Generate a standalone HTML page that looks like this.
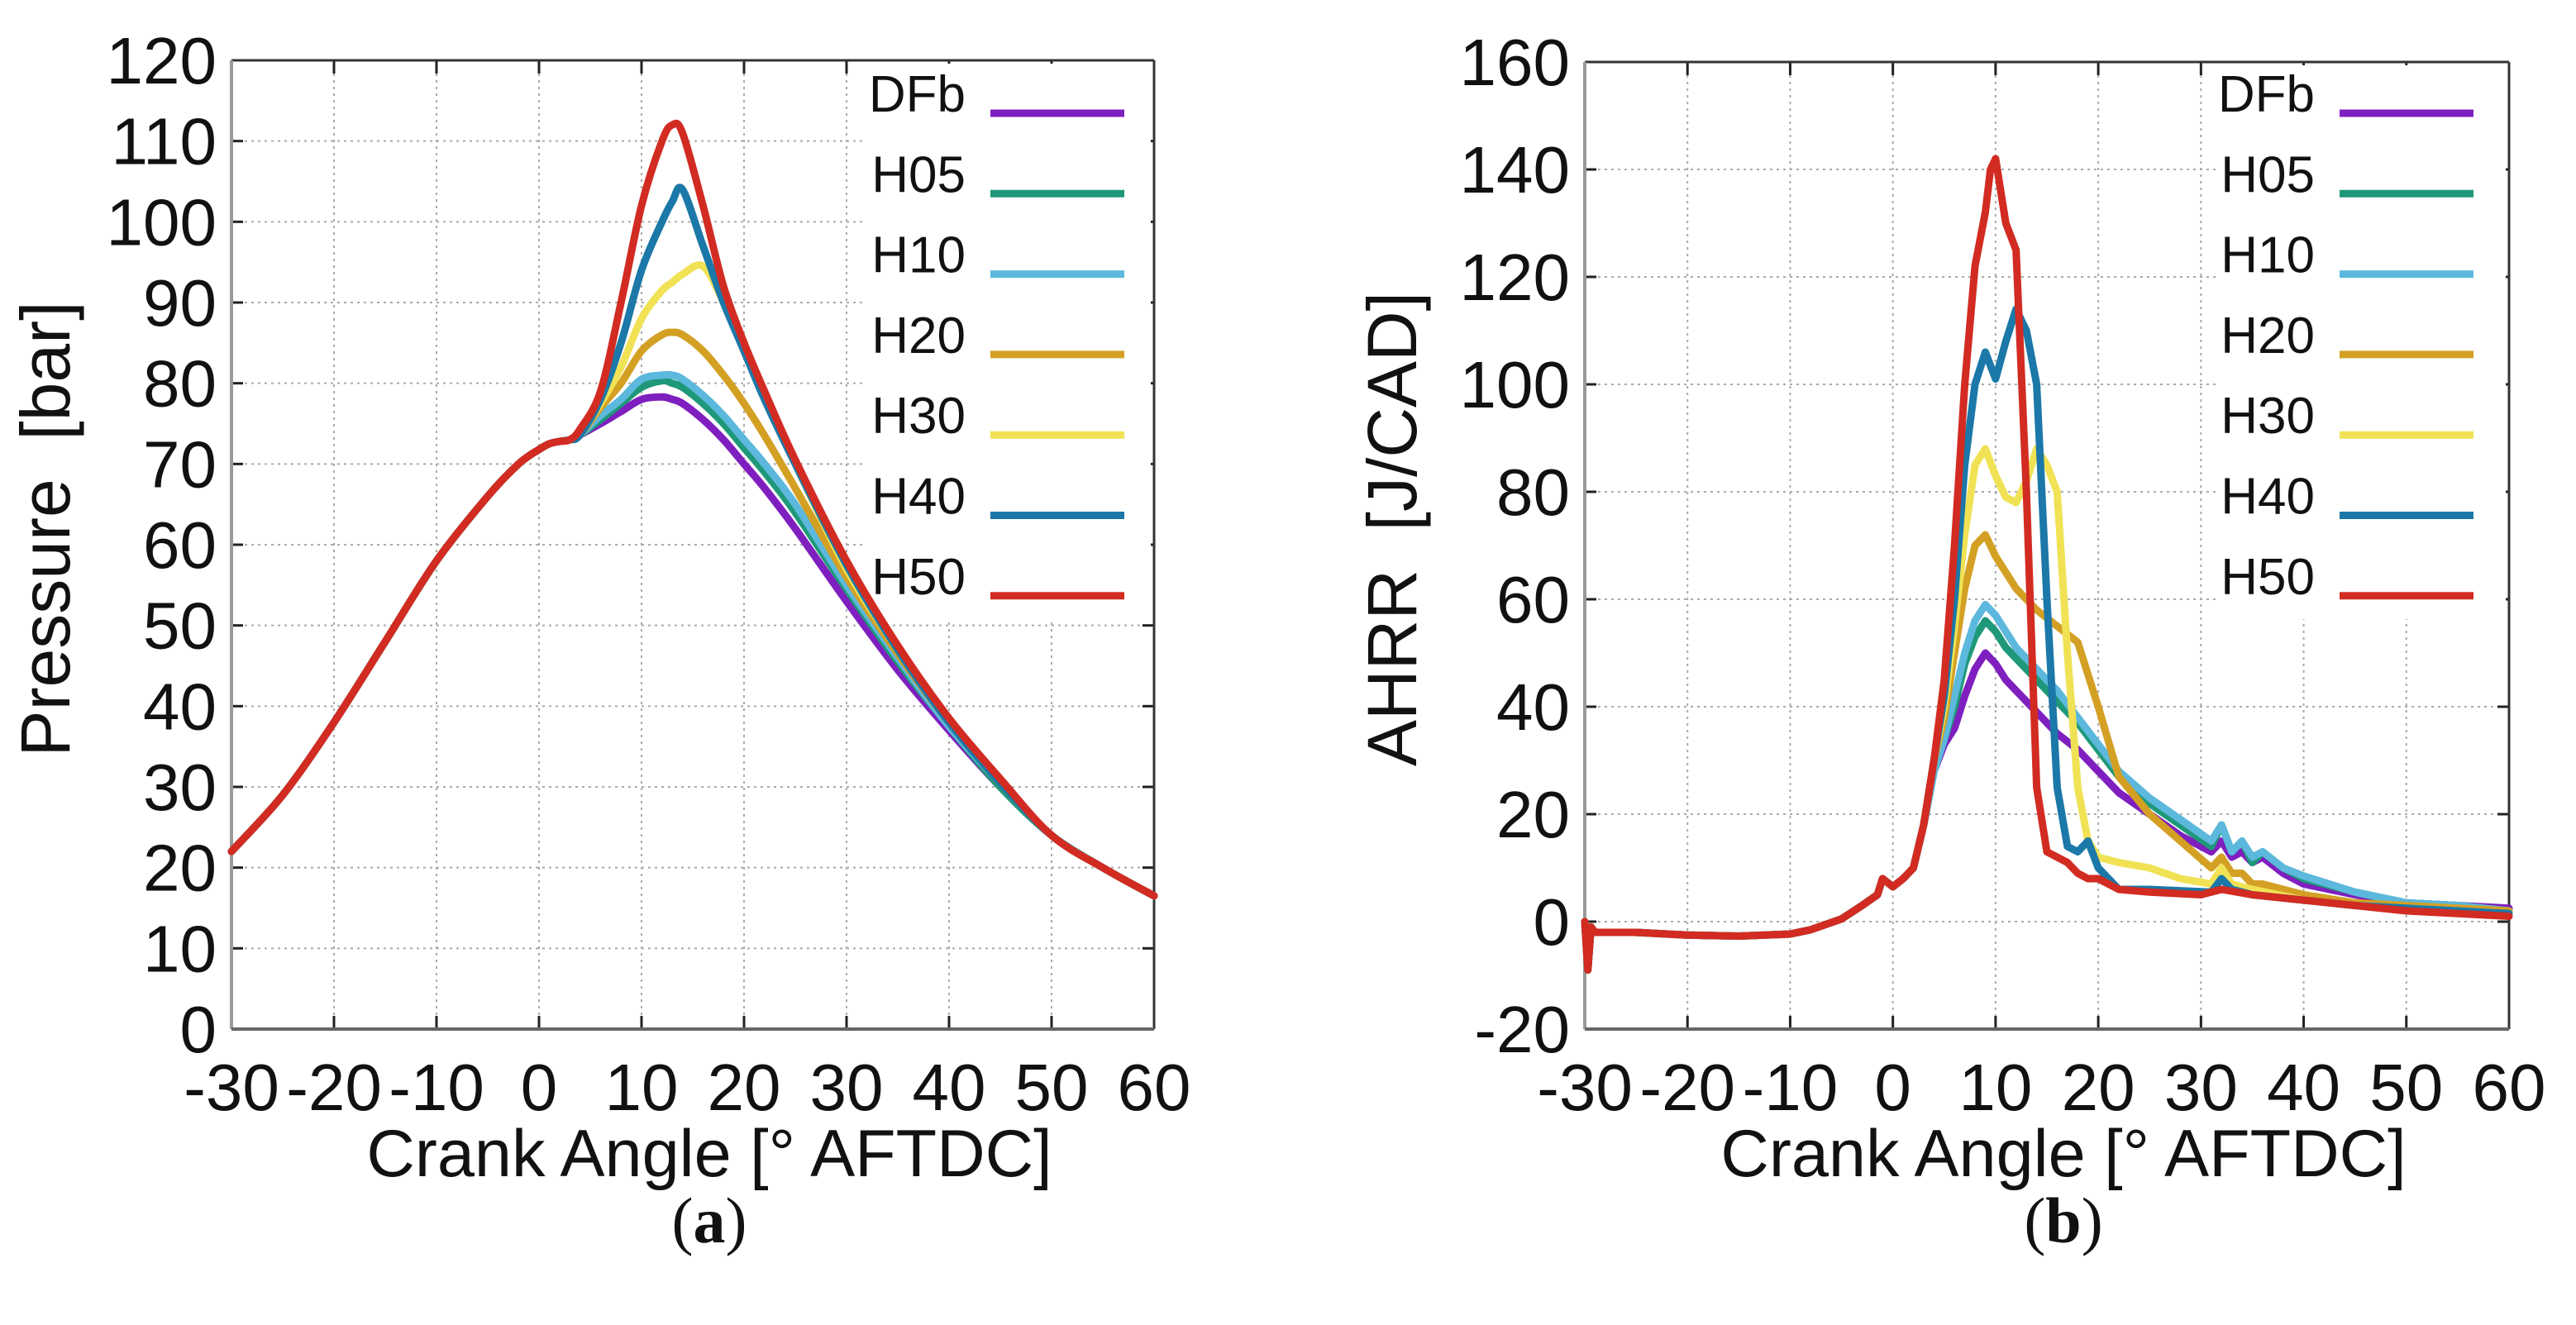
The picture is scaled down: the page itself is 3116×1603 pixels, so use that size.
<!DOCTYPE html>
<html><head><meta charset="utf-8"><style>
html,body{margin:0;padding:0;background:#fff;}
svg{display:block;font-family:"Liberation Sans",sans-serif;}
</style></head><body>
<svg id="fig" width="3116" height="1603" viewBox="0 0 3116 1603">
<rect width="3116" height="1603" fill="#fff"/>
</svg>
<script>
// ---- data: panel (a) pressure ----
const seriesNames = ["DFb","H05","H10","H20","H30","H40","H50"];
const seriesColors = ["#7f1fbf","#1e9878","#5cb8dc","#d3a024","#f0e254","#1b78a8","#d22b22"];
const pX = [-30,-25,-20,-15,-10,-5,-2,0,1,2,3,4,6,8,10,12,13,14,16,18,20,22,25,30,35,40,45,50,55,60];
const pHead = [22,29,38,48,58,66,70,71.8,72.5,72.8,73,73.6];
const pDFb = [75,76.5,78,78.3,78,77.5,75.5,73,70,67,62,53,44.5,37,30,24,20,16.5];
const pH05 = [75.5,77.5,79.5,80.3,80,79.5,77.5,75,72,69,64,54.5,45.5,37.5,30,24,20,16.5];
const pH10 = [76,78,80.5,81,81,80.5,78.5,76,73,70,65,55,46,37.5,30.5,24,20,16.5];
const pH20 = [77,80,84,86,86.3,86,84,81,77.5,73.5,67,56,46.5,38,30.5,24,20,16.5];
const pH30 = [77.5,82,88,91.5,92.5,93.5,94.5,90,84,78,70,57,47,38,30.5,24,20,16.5];
const pH40 = [78,85,94,100,102.5,104,97,90,84,78,70,57.5,47,38,30.5,24,20,16.5];
const pH50 = [79,90,102,110,112,111,102,92,85,79,70.5,58,47.5,38.5,31,24,20,16.5];
const pTicksY = [0,10,20,30,40,50,60,70,80,90,100,110,120];
const xTicks = [-30,-20,-10,0,10,20,30,40,50,60];
// ---- data: panel (b) AHRR ----
const hHeadX = [-30,-29.7,-29.4,-29,-25,-20,-15,-10,-8,-5,-3,-1.5,-1,0,1,2];
const hHeadY = [0,-9,-1,-2,-2,-2.5,-2.7,-2.3,-1.5,0.5,3,5,8,6.5,8,10];
const hX1 = [3,4,5,6,7,8,9,10,11,12,14,16,18,20,22,25,28,31,32,33,34,35,36,38,40,45,50,55,60];
const hDFb = [18,28,33,36,42,47,50,48,45,43,39,35,32,28,24,20,16,13,15,12,13,11,12,9,7,5,3.5,3,2.5];
const hH05 = [18,28,34,40,48,53,56,54,51,49,45,41,37,32,27,22,18,14,18,13,15,11,13,10,8,5.5,3.5,3,2];
const hH10 = [18,28,34,42,50,56,59,57,54,51,47,43,38,33,28,23,19,15,18,13,15,12,13,10,8.5,5.5,3.5,3,2];
const hH20 = [18,30,38,50,62,70,72,68,65,62,58,55,52,40,27,20,15,10,12,9,9,7,7,6,5,3.5,3,2.5,2];
const hX30 = [3,4,5,6,7,8,9,10,11,12,13,14,15,16,17,18,19,20,22,25,28,31,32,33,35,40,45,50,55,60];
const hH30 = [18,30,40,55,72,85,88,83,79,78,82,88,85,80,50,25,15,12,11,10,8,7,10,7,6,4,3,2.5,2,1.5];
const hX40 = [3,4,5,6,7,8,9,10,11,12,13,14,15,16,17,18,19,20,22,25,31,32,33,35,40,45,50,55,60];
const hH40 = [18,30,42,60,85,100,106,101,108,114,110,100,60,25,14,13,15,10,6,6,5.5,8,6,5,4,3,2.5,2,1.5];
const hX50 = [3,4,5,6,7,8,9,9.5,10,11,12,13,14,15,16,17,18,19,20,22,25,30,32,35,40,45,50,55,60];
const hH50 = [18,30,45,70,100,122,132,140,142,130,125,80,25,13,12,11,9,8,8,6,5.5,5,6,5,4,3,2,1.5,1];
const hTicksY = [-20,0,20,40,60,80,100,120,140,160];

const NS = "http://www.w3.org/2000/svg";
const svg = document.getElementById("fig");
function mk(tag, attrs, parent){const e=document.createElementNS(NS,tag);for(const k in attrs)e.setAttribute(k,attrs[k]);(parent||svg).appendChild(e);return e;}

function smoothPath(pts){
  let d="M"+pts[0][0].toFixed(1)+","+pts[0][1].toFixed(1);
  for(let i=0;i<pts.length-1;i++){
    const p0=pts[Math.max(0,i-1)],p1=pts[i],p2=pts[i+1],p3=pts[Math.min(pts.length-1,i+2)];
    const c1=[p1[0]+(p2[0]-p0[0])/6,p1[1]+(p2[1]-p0[1])/6];
    const c2=[p2[0]-(p3[0]-p1[0])/6,p2[1]-(p3[1]-p1[1])/6];
    d+=" C"+c1[0].toFixed(1)+","+c1[1].toFixed(1)+" "+c2[0].toFixed(1)+","+c2[1].toFixed(1)+" "+p2[0].toFixed(1)+","+p2[1].toFixed(1);
  }
  return d;
}

function panel(cfg){
  const g = mk("g",{});
  
  
  const L=cfg.L,R=cfg.R,T=cfg.T,B=cfg.B;
  const sx = v => L + (v-cfg.xmin)/(cfg.xmax-cfg.xmin)*(R-L);
  const sy = v => B - (v-cfg.ymin)/(cfg.ymax-cfg.ymin)*(B-T);
  cfg.yTicks.forEach(t=>{
    const y=sy(t);
    const gl=mk("line",{x1:L,x2:R,y1:y,y2:y,stroke:"#aaa","stroke-width":2,"stroke-dasharray":"3 5"},g);
    
    
    mk("line",{x1:L,x2:L+14,y1:y,y2:y,stroke:"#222","stroke-width":3},g);
    mk("line",{x1:R-14,x2:R,y1:y,y2:y,stroke:"#222","stroke-width":3},g);
    const tl=mk("text",{x:L-18,y:y+28,"text-anchor":"end","font-size":80,fill:"#111"},g);
    tl.textContent=t;
    
    
  });
  xTicks.forEach(t=>{
    const x=sx(t);
    const gl=mk("line",{x1:x,x2:x,y1:T,y2:B,stroke:"#aaa","stroke-width":2,"stroke-dasharray":"3 5"},g);
    
    
    mk("line",{x1:x,x2:x,y1:B-16,y2:B,stroke:"#222","stroke-width":3},g);
    mk("line",{x1:x,x2:x,y1:T,y2:T+16,stroke:"#222","stroke-width":3},g);
    const tl=mk("text",{x:x,y:B+98,"text-anchor":"middle","font-size":80,fill:"#111"},g);
    tl.textContent=t;
    
    
  });
  mk("rect",{x:cfg.legX,y:T+4,width:R-cfg.legX-4,height:745-T,fill:"#fff"},g);
  mk("line",{x1:L,x2:R,y1:T,y2:T,stroke:"#333","stroke-width":3},g);
  mk("line",{x1:R,x2:R,y1:T,y2:B,stroke:"#333","stroke-width":3},g);
  mk("line",{x1:L,x2:L,y1:T,y2:B,stroke:"#999","stroke-width":4},g);
  mk("line",{x1:L,x2:R,y1:B,y2:B,stroke:"#666","stroke-width":4},g);
  cfg.series.forEach((s,i)=>{
    const pts = s.x.map((v,j)=>[sx(v),sy(s.y[j])]);
    const d = cfg.smooth ? smoothPath(pts) : pts.map((p,j)=>(j?"L":"M")+p[0].toFixed(1)+","+p[1].toFixed(1)).join(" ");
    const p=mk("path",{d:d,fill:"none",stroke:seriesColors[i],"stroke-width":9,"stroke-linejoin":"round","stroke-linecap":"round"},g);
    
    
  });
  seriesNames.forEach((n,i)=>{
    const y=137+i*97.3;
    const le=mk("g",{},g);
    
    
    const t=mk("text",{x:cfg.legTextX,y:y-2,"text-anchor":"end","font-size":62,fill:"#111"},le);
    t.textContent=n;
    mk("line",{x1:cfg.legLineX,x2:cfg.legLineX+162,y1:y,y2:y,stroke:seriesColors[i],"stroke-width":9},le);
  });
  const xt=mk("text",{x:(L+R)/2+20,y:1423,"text-anchor":"middle","font-size":81,fill:"#111"},g);
  xt.textContent="Crank Angle [° AFTDC]";
  
  
  const yt=mk("text",{x:0,y:0,"text-anchor":"middle","font-size":84,fill:"#111",transform:`translate(${cfg.ytX},640) rotate(-90)`},g);
  yt.textContent=cfg.ytitle;
  
  
  const cap=mk("text",{x:(L+R)/2+20,y:1503,"text-anchor":"middle","font-size":78,fill:"#111","font-family":"Liberation Serif, serif"},g);
  cap.innerHTML='(<tspan font-weight="bold">'+cfg.cap+'</tspan>)';
  
  
}

const pSeries=[pDFb,pH05,pH10,pH20,pH30,pH40,pH50].map(arr=>({x:pX,y:pHead.concat(arr)}));
pSeries[6].y[11]=74.3;
panel({name:"pressure-chart",L:280,R:1396,T:73,B:1245,xmin:-30,xmax:60,ymin:0,ymax:120,yTicks:pTicksY,smooth:true,
  series:pSeries,legX:1045,legTextX:1168,legLineX:1198,ytX:84,ytitle:"Pressure\u00a0\u00a0[bar]",cap:"a"});

const hx=[hX1,hX1,hX1,hX1,hX30,hX40,hX50], hy=[hDFb,hH05,hH10,hH20,hH30,hH40,hH50];
const hSeries=hx.map((xs,i)=>({x:hHeadX.concat(xs),y:hHeadY.concat(hy[i])}));
panel({name:"ahrr-chart",L:1917,R:3035,T:75,B:1245,xmin:-30,xmax:60,ymin:-20,ymax:160,yTicks:hTicksY,smooth:false,
  series:hSeries,legX:2683,legTextX:2800,legLineX:2830,ytX:1713,ytitle:"AHRR\u00a0\u00a0[J/CAD]",cap:"b"});
</script>
</body></html>
